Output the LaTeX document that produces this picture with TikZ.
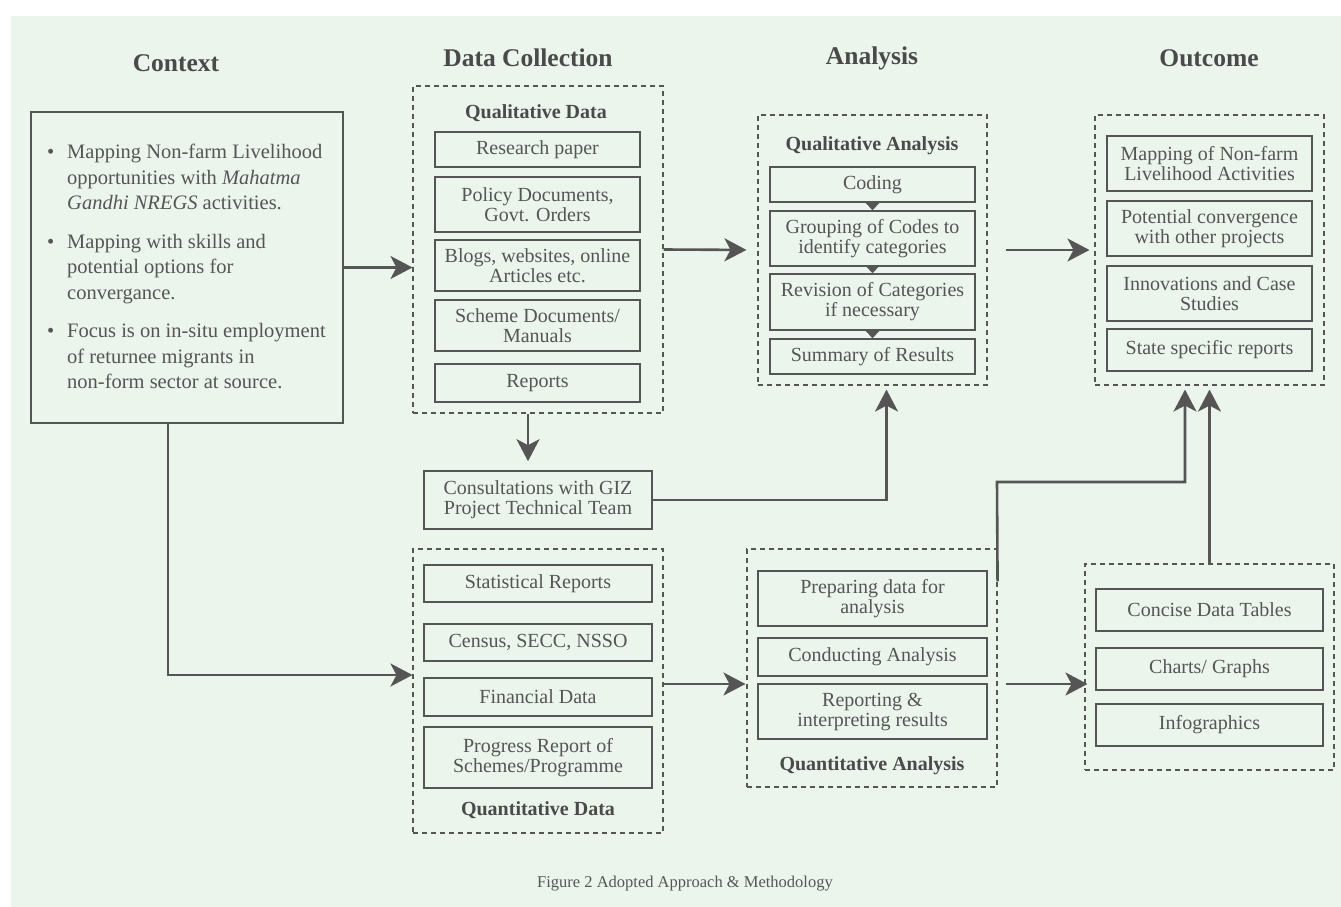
\documentclass[tikz,border=0pt]{standalone}
\usepackage{fontspec}
\setmainfont{Liberation Serif}
\usetikzlibrary{arrows.meta,calc}
\definecolor{bg}{HTML}{EBF5EC}
\definecolor{ink}{HTML}{555555}
\definecolor{hd}{HTML}{4A4A4A}
\begin{document}
\begin{tikzpicture}[x=1pt,y=-1pt,
  every node/.style={text=ink, inner sep=0pt},
  hdr/.style={font=\fontsize{25.5}{28}\selectfont\bfseries, text=hd},
  ttl/.style={font=\fontsize{20}{22}\selectfont\bfseries, text=hd},
  ibox/.style={draw=ink, line width=1.6pt, align=center, font=\fontsize{20}{20}\selectfont},
  dbox/.style={draw=ink, line width=1.1pt, dash pattern=on 5pt off 4pt},
  arr/.style={draw=ink, line width=2.6pt, -{Stealth[length=22pt,width=23pt,inset=6pt]}},
  tri/.style={draw=ink, fill=ink, line width=0.3pt, -{Triangle[length=8pt,width=15pt]}}
]
\useasboundingbox (0,0) rectangle (1341,907);
\fill[bg] (11,16) rectangle (1341,907);

% headers
\node[hdr] (ctxH) at (176,63) {Context};
\node[hdr] (dcH) at (528,58) {Data Collection};
\node[hdr] (anH) at (872,58) {Analysis};
\node[hdr] (ocH) at (1209,58) {Outcome};

% context
\node[draw=ink, line width=1.6pt, minimum width=312pt, minimum height=311pt] (ctx) at (187,267.5) {};
\node[anchor=west, align=left, font=\fontsize{20.5}{25.5}\selectfont] (ctxt) at (47,266.5) {%
\makebox[20pt][l]{\textbullet}Mapping Non-farm Livelihood\\
\hspace*{20pt}opportunities with \textit{Mahatma}\\
\hspace*{20pt}\textit{Gandhi NREGS} activities.\\[13pt]
\makebox[20pt][l]{\textbullet}Mapping with skills and\\
\hspace*{20pt}potential options for\\
\hspace*{20pt}convergance.\\[13pt]
\makebox[20pt][l]{\textbullet}Focus is on in-situ employment\\
\hspace*{20pt}of returnee migrants in\\
\hspace*{20pt}non-form sector at source.};

% qualitative data
\node[dbox, minimum width=250pt, minimum height=327pt] (qd) at (538,249.5) {};
\node[ttl] (qdT) at (536,113) {Qualitative Data};
\node[ibox, minimum width=205pt, minimum height=35pt] (rp) at (537.5,149.5) {Research paper};
\node[ibox, minimum width=205pt, minimum height=55pt] (pd) at (537.5,204.5) {Policy Documents,\\Govt. Orders};
\node[ibox, minimum width=205pt, minimum height=51pt] (bl) at (537.5,265.5) {Blogs, websites, online\\Articles etc.};
\node[ibox, minimum width=205pt, minimum height=51pt] (sd) at (537.5,325.5) {Scheme Documents/\\Manuals};
\node[ibox, minimum width=205pt, minimum height=38pt] (rep) at (537.5,383) {Reports};

% qualitative analysis
\node[dbox, minimum width=229pt, minimum height=270pt] (qa) at (872.5,250) {};
\node[ttl] (qaT) at (872,146) {Qualitative Analysis};
\node[ibox, minimum width=205pt, minimum height=35pt] (cod) at (872.5,184.5) {Coding};
\node[ibox, minimum width=205pt, minimum height=55pt] (grp) at (872.5,238.5) {Grouping of Codes to\\identify categories};
\node[ibox, minimum width=205pt, minimum height=56pt] (rev) at (872.5,302) {Revision of Categories\\if necessary};
\node[ibox, minimum width=205pt, minimum height=35pt] (sum) at (872.5,356.5) {Summary of Results};
\draw[tri] (cod.south) -- (grp.north);
\draw[tri] (grp.south) -- (rev.north);
\draw[tri] (rev.south) -- (sum.north);

% outcome
\node[dbox, minimum width=229pt, minimum height=270pt] (oc) at (1209.5,250) {};
\node[ibox, minimum width=205pt, minimum height=55pt] (o1) at (1209.5,163.5) {Mapping of Non-farm\\Livelihood Activities};
\node[ibox, minimum width=205pt, minimum height=55pt] (o2) at (1209.5,228.5) {Potential convergence\\with other projects};
\node[ibox, minimum width=205pt, minimum height=55pt] (o3) at (1209.5,293.5) {Innovations and Case\\Studies};
\node[ibox, minimum width=205pt, minimum height=42pt] (o4) at (1209.5,350) {State specific reports};

% consultations
\node[ibox, minimum width=228pt, minimum height=58pt] (cons) at (538,500) {Consultations with GIZ\\Project Technical Team};

% quantitative data
\node[dbox, minimum width=250pt, minimum height=284pt] (qd2) at (538,691) {};
\node[ttl] (qd2T) at (538,810) {Quantitative Data};
\node[ibox, minimum width=228pt, minimum height=37pt] (s1) at (538,583.5) {Statistical Reports};
\node[ibox, minimum width=228pt, minimum height=37pt] (s2) at (538,642.5) {Census, SECC, NSSO};
\node[ibox, minimum width=228pt, minimum height=38pt] (s3) at (538,697) {Financial Data};
\node[ibox, minimum width=228pt, minimum height=61pt] (s4) at (538,757.5) {Progress Report of\\Schemes/Programme};

% quantitative analysis
\node[dbox, minimum width=250pt, minimum height=238pt] (qa2) at (872,668) {};
\node[ttl] (qa2T) at (872,766) {Quantitative Analysis};
\node[ibox, minimum width=229pt, minimum height=55pt] (p1) at (872.5,598.5) {Preparing data for\\analysis};
\node[ibox, minimum width=229pt, minimum height=38pt] (p2) at (872.5,657) {Conducting Analysis};
\node[ibox, minimum width=229pt, minimum height=55pt] (p3) at (872.5,711.5) {Reporting \&\\interpreting results};

% outcome 2
\node[dbox, minimum width=249pt, minimum height=206pt] (oc2) at (1209.5,667) {};
\node[ibox, minimum width=227pt, minimum height=42pt] (d1) at (1209.5,610) {Concise Data Tables};
\node[ibox, minimum width=227pt, minimum height=42pt] (d2) at (1209.5,669) {Charts/ Graphs};
\node[ibox, minimum width=227pt, minimum height=42pt] (d3) at (1209.5,725) {Infographics};

% caption
\node[font=\fontsize{16.5}{18}\selectfont] (cap) at (685,884) {Figure 2 Adopted Approach \& Methodology};

% connectors
\draw[arr] (ctx.east) -- (ctx.east -| qd.west);
\draw[arr, shorten >=11pt] (qd.east) -- (qa.west);
\draw[arr, shorten <=18pt, shorten >=5pt] (qa.east) -- (oc.west);
\draw[arr, shorten >=9pt] ([xshift=-10pt]qd.south) -- ([xshift=-10pt]cons.north);
\draw[arr, shorten >=4pt] (cons.east) -| ([xshift=14pt]qa.south);
\draw[arr] ([xshift=-19pt]ctx.south) |- ([yshift=16pt]qd2.west);
\draw[arr, shorten >=1pt] ([yshift=7pt]qd2.east) -- ([yshift=7pt]qd2.east -| qa2.west);
\draw[arr, shorten <=8pt, shorten >=-3pt] ([yshift=-16pt]qa2.east) -- ([yshift=-16pt]qa2.east -| oc2.west);
\coordinate (bend) at (997,482);
\draw[arr, shorten >=4pt] ([yshift=-33pt]qa2.north east) -- (bend) -| ([xshift=-24.5pt]oc.south);
\draw[arr, shorten >=4pt] (oc2.north) -- (oc.south);
\end{tikzpicture}
\end{document}
